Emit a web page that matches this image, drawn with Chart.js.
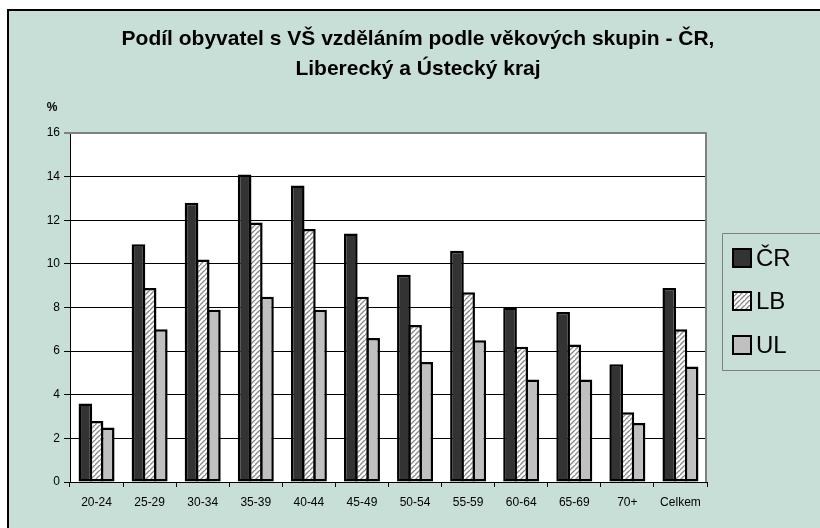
<!DOCTYPE html>
<html><head><meta charset="utf-8">
<script src="https://cdn.jsdelivr.net/npm/chart.js@4/dist/chart.umd.min.js"></script>
<style>html,body{margin:0;padding:0;background:#fff}#wrap{width:820px;height:528px}</style>
</head><body><div id="wrap"><canvas id="c" width="820" height="528"></canvas></div>
<script>
const titleLines = ['Podíl obyvatel s VŠ vzděláním podle věkových skupin - ČR,', 'Liberecký a Ústecký kraj'];
const categories = ['20-24','25-29','30-34','35-39','40-44','45-49','50-54','55-59','60-64','65-69','70+','Celkem'];
const seriesNames = ['ČR','LB','UL'];
const valuesCR = [3.6,10.9,12.8,14.1,13.6,11.4,9.5,10.6,8.0,7.8,5.4,8.9];
const valuesLB = [2.8,8.9,10.2,11.9,11.6,8.5,7.2,8.7,6.2,6.3,3.2,7.0];
const valuesUL = [2.5,7.0,7.9,8.5,7.9,6.6,5.5,6.5,4.7,4.7,2.7,5.3];
const yMin = 0, yMax = 16, yStep = 2;
const unitLabel = '%';

const FONT = '"Liberation Sans", Arial, sans-serif';
const BG = '#C8DFD8';
const canvas = document.getElementById('c');
const ctx0 = canvas.getContext('2d');

function makeHatch(){
  const s = 5;
  const c = document.createElement('canvas'); c.width = s; c.height = s;
  const g = c.getContext('2d');
  g.fillStyle = '#fff'; g.fillRect(0,0,s,s);
  g.strokeStyle = '#8a8a8a'; g.lineWidth = 1.4;
  g.beginPath();
  g.moveTo(-1, s+1); g.lineTo(s+1, -1);
  g.moveTo(-1-s, s+1); g.lineTo(1, -1);
  g.moveTo(s-1, 2*s+1); g.lineTo(2*s+1, s-1);
  g.stroke();
  return ctx0.createPattern(c, 'repeat');
}
const hatch = makeHatch();
const fills = ['#333333', hatch, '#C0C0C0'];
const seriesValues = [valuesCR, valuesLB, valuesUL];

const decor = {
  id: 'decor',
  beforeDraw(chart){
    const ctx = chart.ctx; const a = chart.chartArea;
    ctx.save();
    ctx.fillStyle = '#fff'; ctx.fillRect(0,0,chart.width,chart.height);
    ctx.fillStyle = BG; ctx.fillRect(8,10,chart.width-8,chart.height-10);
    ctx.strokeStyle = '#000'; ctx.lineWidth = 2;
    ctx.beginPath(); ctx.moveTo(8,chart.height); ctx.lineTo(8,10); ctx.lineTo(chart.width,10); ctx.stroke();
    ctx.fillStyle = '#fff'; ctx.fillRect(a.left,a.top,a.right-a.left,a.bottom-a.top);
    ctx.restore();
  },
  afterDraw(chart){
    const ctx = chart.ctx; const a = chart.chartArea;
    ctx.save();
    ctx.strokeStyle = '#808080'; ctx.lineWidth = 2;
    ctx.beginPath(); ctx.moveTo(a.left, a.top); ctx.lineTo(a.right-1, a.top); ctx.lineTo(a.right-1, a.bottom); ctx.stroke();
    ctx.fillStyle = '#000'; ctx.font = 'bold 12px ' + FONT;
    ctx.textAlign = 'center'; ctx.textBaseline = 'middle';
    ctx.fillText(unitLabel, 52, 108);
    ctx.strokeStyle = '#808080'; ctx.lineWidth = 1;
    ctx.beginPath(); ctx.rect(722.5, 233.5, 120, 137); ctx.stroke();
    const ys = [258, 301, 345];
    ctx.font = '24px ' + FONT; ctx.textAlign = 'left'; ctx.textBaseline = 'middle';
    seriesNames.forEach((n,i)=>{
      ctx.fillStyle = fills[i];
      ctx.fillRect(732, ys[i]-10, 20, 20);
      ctx.strokeStyle = '#000'; ctx.lineWidth = 2;
      ctx.strokeRect(733, ys[i]-9, 18, 18);
      ctx.fillStyle = '#000';
      ctx.fillText(n, 756, ys[i]+1);
    });
    ctx.restore();
  }
};

new Chart(canvas, {
  type: 'bar',
  data: {
    labels: categories,
    datasets: seriesNames.map((n,i)=>({
      label: n,
      data: seriesValues[i],
      yAxisID: 'y',
      backgroundColor: fills[i],
      borderColor: '#000',
      borderWidth: 2.5,
      borderSkipped: false,
      inflateAmount: 0,
      categoryPercentage: 0.631,
      barPercentage: 1.224
    }))
  },
  options: {
    responsive: false,
    animation: false,
    devicePixelRatio: 1,
    layout: { padding: { top: 10, right: 0, bottom: 0, left: 16 } },
    plugins: {
      legend: { display: false },
      tooltip: { enabled: false },
      title: {
        display: true,
        text: titleLines,
        color: '#000',
        font: { family: FONT, size: 21, weight: 'bold', lineHeight: 1.43 },
        padding: { top: 14, bottom: 49 }
      }
    },
    scales: {
      x: {
        afterFit(s){ s.height = 46; },
        grid: { offset: true, drawOnChartArea: false, drawTicks: true, tickLength: 5, color: '#000' },
        border: { color: '#000', width: 1 },
        ticks: { color: '#000', font: { family: FONT, size: 12 }, padding: 8, autoSkip: false, maxRotation: 0 }
      },
      y: {
        position: 'left',
        min: yMin, max: yMax,
        afterFit(s){ s.width = 54; },
        grid: {
          color: c => c.tick && c.tick.value === yMax ? '#808080' : '#000',
          lineWidth: c => c.tick && c.tick.value === yMax ? 2 : 1,
          tickLength: 6
        },
        border: { color: '#000', width: 1 },
        ticks: { stepSize: yStep, color: '#000', font: { family: FONT, size: 12 }, padding: 4 }
      },
      yRight: {
        position: 'right',
        min: yMin, max: yMax,
        afterFit(s){ s.width = 113; },
        grid: { display: false, drawOnChartArea: false, drawTicks: false },
        border: { display: false },
        ticks: { display: false }
      }
    }
  },
  plugins: [decor]
});
</script>
</body></html>
